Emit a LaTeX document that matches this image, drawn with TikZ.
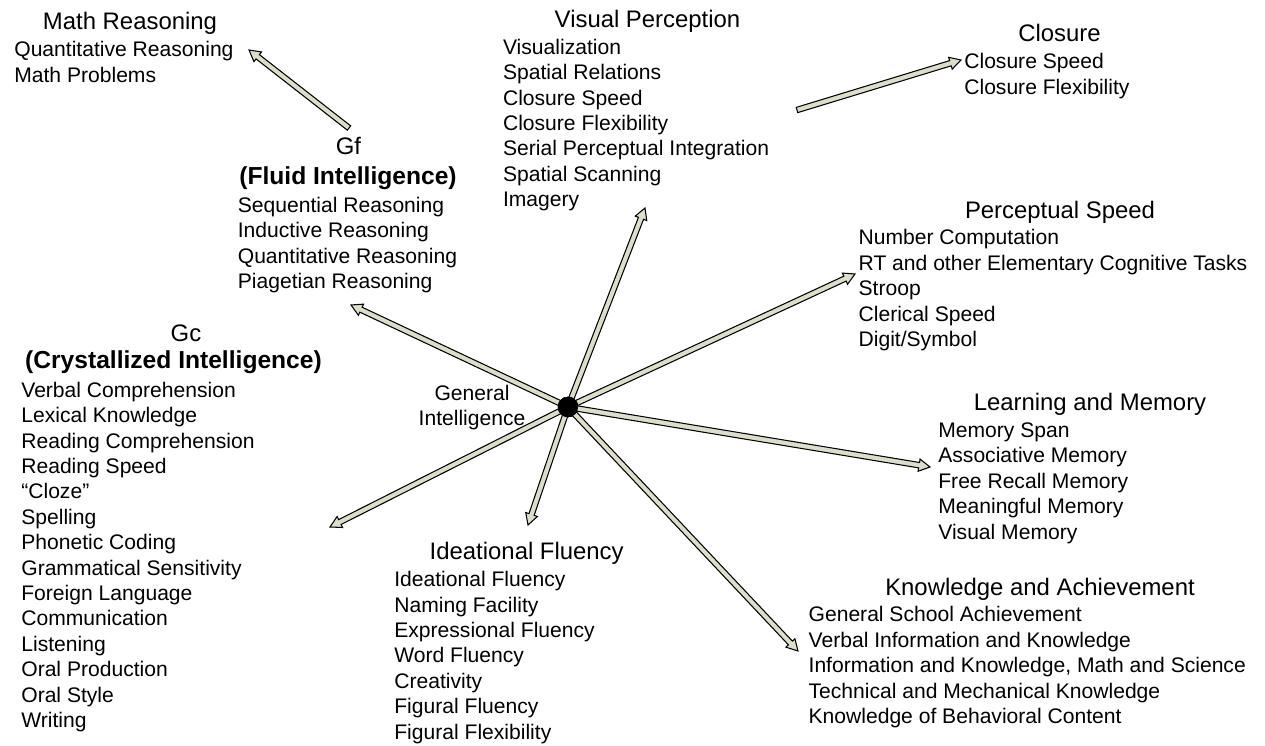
\documentclass[tikz,border=0pt]{standalone}
\usepackage{fontspec}
\setmainfont{Liberation Sans}
\usetikzlibrary{calc}
\definecolor{arrowfill}{RGB}{221,221,204}

% block arrow from #1 to #2
\newcommand{\blockarrow}[2]{%
  \path (#2.center) coordinate (ba-tip) ($(#2.center)!6.3pt!(#1.center)$) coordinate (ba-base);
  \draw[blockarr] ($(#1.center)!1.55pt!90:(#2.center)$) -- ($(ba-base)!1.55pt!90:(ba-tip)$)
    -- ($(ba-base)!3.5pt!90:(ba-tip)$) -- (ba-tip)
    -- ($(ba-base)!3.5pt!-90:(ba-tip)$) -- ($(ba-base)!1.55pt!-90:(ba-tip)$)
    -- ($(#1.center)!1.55pt!-90:(#2.center)$) -- cycle;
}

\begin{document}
\begin{tikzpicture}[x=0.02cm, y=-0.02cm,
  item/.style={font=\fontsize{12}{14}\selectfont, inner sep=0pt, anchor=base west},
  head/.style={font=\fontsize{13.6}{16}\selectfont, inner sep=0pt, anchor=base},
  boldhead/.style={head, font=\fontsize{14}{16}\selectfont\bfseries},
  blockarr/.style={draw=black, line width=0.6pt, fill=arrowfill, line join=miter},
  hub/.style={circle, fill=black, inner sep=0pt, minimum size=11.5pt}]
\useasboundingbox (0,0) rectangle (1265,746);
% Math reasoning
\node[head] (math) at (130,30) {Math Reasoning};
\foreach \t [count=\i] in {Quantitative Reasoning, Math Problems}
  \node[item] (math-\i) at (14, 31.6+25.4*\i) {\t};
% Fluid intelligence
\node[head] (gf) at (348.5,155) {Gf};
\node[boldhead] (gf-name) at (348,185) {(Fluid Intelligence)};
\foreach \t [count=\i] in {Sequential Reasoning, Inductive Reasoning, Quantitative Reasoning, Piagetian Reasoning}
  \node[item] (gf-\i) at (237.5, 187.4+25.3*\i) {\t};
% Visual perception
\node[head] (visual) at (647.5,27.3) {Visual Perception};
\foreach \t [count=\i] in {Visualization, Spatial Relations, Closure Speed, Closure Flexibility, Serial Perceptual Integration, Spatial Scanning, Imagery}
  \node[item] (visual-\i) at (502.7, 28.9+25.4*\i) {\t};
% Closure
\node[head] (closure) at (1059.5,41.7) {Closure};
\foreach \t [count=\i] in {Closure Speed, Closure Flexibility}
  \node[item] (closure-\i) at (964, 43.7+25.3*\i) {\t};
% Perceptual speed
\node[head] (percept) at (1060,218.3) {Perceptual Speed};
\foreach \t [count=\i] in {Number Computation, RT and other Elementary Cognitive Tasks, Stroop, Clerical Speed, Digit/Symbol}
  \node[item] (percept-\i) at (858.3, 219.6+25.4*\i) {\t};
% Crystallized intelligence
\node[head] (gc) at (186,342) {Gc};
\node[boldhead] (gc-name) at (173.5,369) {(Crystallized Intelligence)};
\foreach \t [count=\i] in {Verbal Comprehension, Lexical Knowledge, Reading Comprehension, Reading Speed, “Cloze”, Spelling, Phonetic Coding, Grammatical Sensitivity, Foreign Language, Communication, Listening, Oral Production, Oral Style, Writing}
  \node[item] (gc-\i) at (21, 371.9+25.4*\i) {\t};
% Learning and memory
\node[head] (learn) at (1090,411) {Learning and Memory};
\foreach \t [count=\i] in {Memory Span, Associative Memory, Free Recall Memory, Meaningful Memory, Visual Memory}
  \node[item] (learn-\i) at (938, 412.2+25.4*\i) {\t};
% Ideational fluency
\node[head] (ideat) at (526.7,560) {Ideational Fluency};
\foreach \t [count=\i] in {Ideational Fluency, Naming Facility, Expressional Fluency, Word Fluency, Creativity, Figural Fluency, Figural Flexibility}
  \node[item] (ideat-\i) at (394, 561.3+25.4*\i) {\t};
% Knowledge and achievement
\node[head] (know) at (1040,595) {Knowledge and Achievement};
\foreach \t [count=\i] in {General School Achievement, Verbal Information and Knowledge, {Information and Knowledge, Math and Science}, Technical and Mechanical Knowledge, Knowledge of Behavioral Content}
  \node[item] (know-\i) at (808.3, 596.2+25.5*\i) {\t};
% General intelligence
\node[item, anchor=base] (gen-1) at (472,401) {General};
\node[item, anchor=base] (gen-2) at (472,426) {Intelligence};
% Arrow ends
\coordinate (gen) at (568,407);
\coordinate (math-tail) at (349,128);
\coordinate (math-tip) at (249,50);
\coordinate (closure-tail) at (797,110);
\coordinate (closure-tip) at (961,60);
\coordinate (visual-tip) at (645,208);
\coordinate (gf-tip) at (351,305);
\coordinate (percept-tip) at (855,274);
\coordinate (gc-tip) at (330,527);
\coordinate (ideat-tip) at (528,525);
\coordinate (know-tip) at (798,651);
\coordinate (learn-tip) at (930,467);
% Arrows
\blockarrow{math-tail}{math-tip}
\blockarrow{closure-tail}{closure-tip}
\foreach \a in {visual,gf,percept,gc,ideat,know,learn}
  \blockarrow{gen}{\a-tip}
\node[hub] (hub) at (gen) {};
\end{tikzpicture}
\end{document}
